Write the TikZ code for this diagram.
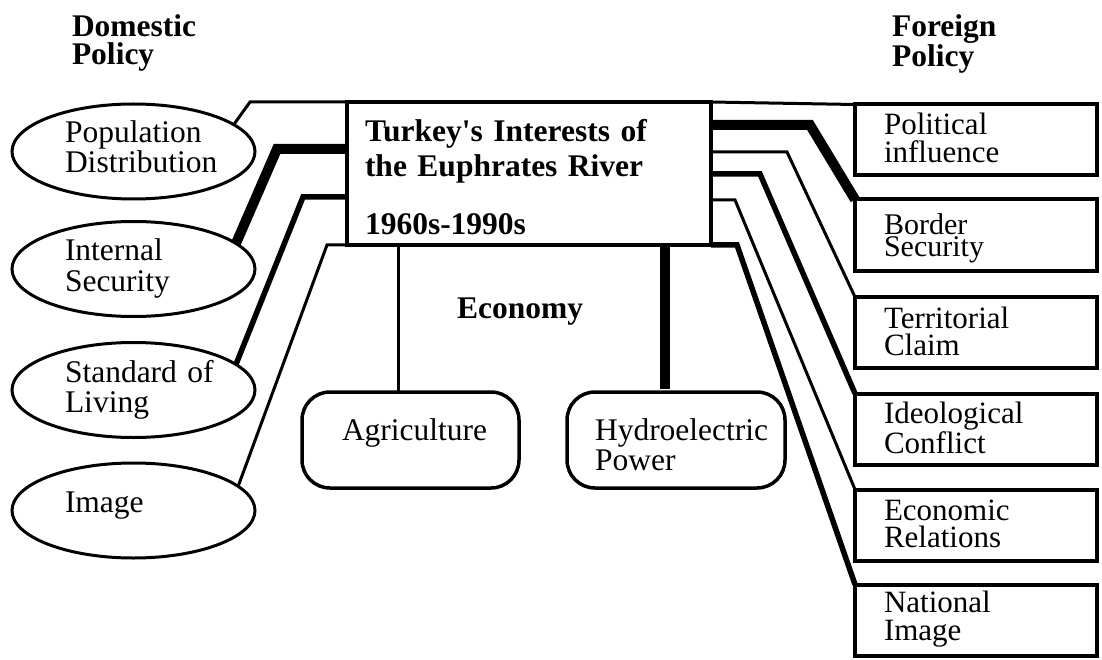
\documentclass[tikz,border=0pt]{standalone}
\usepackage{fontspec}
\setmainfont{Liberation Serif}
\usetikzlibrary{shapes.geometric,calc}

\begin{document}
\begin{tikzpicture}[x=1pt,y=-1pt,
  every node/.style={outer sep=0pt, inner sep=0pt},
  regfont/.style={font=\fontsize{31.5pt}{30pt}\selectfont},
  heading/.style={font=\bfseries\fontsize{31.5pt}{28pt}\selectfont, text width=200pt, align=left, text height=22pt, anchor=north west},
  oval/.style={ellipse, draw, line width=3pt, minimum width=243pt, minimum height=95pt,
    text width=137pt, align=left, text height=11pt, text depth=29pt, regfont},
  policybox/.style={rectangle, draw, line width=4pt, minimum width=242pt, minimum height=71pt,
    text width=184pt, align=left, text height=15pt, text depth=25pt,
    font=\fontsize{31pt}{28pt}\selectfont},
  econbox/.style={rectangle, rounded corners=28pt, draw, line width=3.5pt, minimum height=96pt,
    align=left, text height=15pt, text depth=15pt, regfont},
  mainbox/.style={rectangle, draw, line width=4.5pt, minimum width=364pt, minimum height=143pt,
    text width=328pt, align=left, text height=10pt, text depth=73pt,
    font=\bfseries\fontsize{31.5pt}{35pt}\selectfont},
  lnthin/.style={line width=3pt},
  lnmed/.style={line width=5.5pt},
  lnheavy/.style={line width=10pt},
]
\fill[white] (0,0) rectangle (1102,660);
\useasboundingbox (0,0) rectangle (1102,660);

% headings
\node[heading] (dom) at (72,15) {Domestic\\Policy};
\node[heading] (for) at (892,15) {Foreign\\Policy};

% central box
\node[mainbox] (main) at (529,173.5)
  {Turkey\textquotesingle s Interests of\\the Euphrates River\\[23pt]1960s-1990s};

% domestic policy
\node[oval] (pop) at (133.5,151.5) {Population\\Distribution};
\node[oval, text height=12pt, text depth=30pt, font=\fontsize{31.5pt}{32pt}\selectfont] (intsec) at (133.5,269) {Internal\\Security};
\node[oval, text height=12pt, text depth=28pt] (sol) at (133.5,390) {Standard~of\\Living};
\node[oval, text height=20pt, text depth=16pt] (img) at (133.5,510.5) {Image};

% foreign policy
\node[policybox] (polinf) at (976,140) {Political\\influence};
\node[policybox, text height=20pt, text depth=20pt, font=\fontsize{30pt}{21pt}\selectfont] (border) at (976,235) {Border\\Security};
\node[policybox, text height=16pt, text depth=25pt, font=\fontsize{31pt}{27pt}\selectfont] (terr) at (976,332.5) {Territorial\\Claim};
\node[policybox, text height=14pt, text depth=26pt, font=\fontsize{31pt}{30pt}\selectfont] (ideo) at (976,429) {Ideological\\Conflict};
\node[policybox, font=\fontsize{31pt}{27pt}\selectfont] (econ) at (976,525) {Economic\\Relations};
\node[policybox, text height=12pt, text depth=28pt] (natimg) at (976,620) {National\\Image};

% economy
\node[anchor=base west, font=\bfseries\fontsize{31.5pt}{30pt}\selectfont] (economy) at (457,318) {Economy};
\node[econbox, minimum width=217pt, text width=137pt] (agri) at (410.5,440) {Agriculture};
\node[econbox, minimum width=218pt, text width=162pt] (hydro) at (676,440) {Hydroelectric\\Power};

% domestic connectors
\draw[lnthin] (main.north west) -- ++(-97,0) -- (pop.15);
\draw[lnheavy] ($(main.north west)+(0,47)$) -- ++(-70,0) -- (intsec.14);
\draw[lnmed] ($(main.north west)+(0,95)$) -- ++(-44,0) -- (sol.14);
\draw[lnthin] (main.south west) -- ++(-20,0) -- (img.13);

% foreign connectors
\draw[lnthin] (main.north east) -- (polinf.north west);
\draw[lnheavy] ($(main.north east)+(0,23)$) -- ++(99,0) -- (border.north west);
\draw[lnthin] ($(main.north east)+(0,50)$) -- ++(76,0) -- (terr.north west);
\draw[lnmed] ($(main.north east)+(0,72)$) -- ++(49,0) -- (ideo.north west);
\draw[lnthin] ($(main.north east)+(0,98)$) -- ++(24,0) -- (econ.north west);
\draw[lnmed] (main.south east) -- ++(26,0) -- (natimg.north west);

% economy connectors
\coordinate (agrijoin) at ($(agri.north)+(-12,0)$);
\coordinate (hydrojoin) at ($(hydro.north)+(-11,0)$);
\draw[lnthin] (agrijoin |- main.south) -- (agrijoin);
\draw[lnheavy, shorten >=3pt] (hydrojoin |- main.south) -- (hydrojoin);
\end{tikzpicture}
\end{document}
